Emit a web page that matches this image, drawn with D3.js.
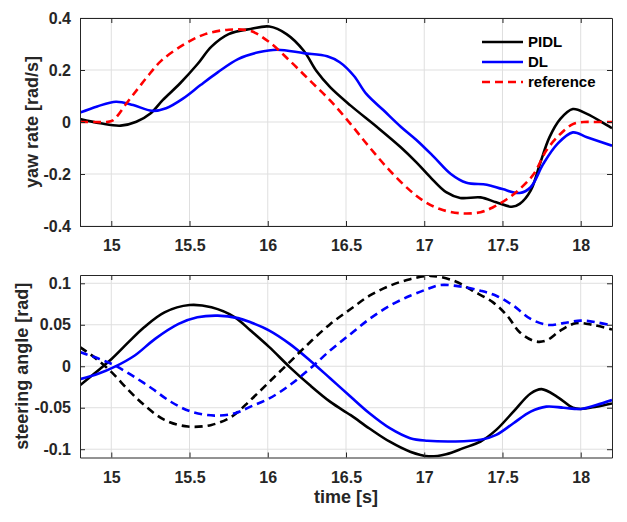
<!DOCTYPE html>
<html>
<head>
<meta charset="utf-8">
<script src="https://cdnjs.cloudflare.com/ajax/libs/d3/7.8.5/d3.min.js"></script>
<style>
body { margin: 0; background: #fff; }
text { font-family: "Liberation Sans", Arial, sans-serif; font-weight: bold; fill: #262626; }
</style>
</head>
<body>
<div id="chart"></div>
<script>
// tick labels
var timeTicks = [15, 15.5, 16, 16.5, 17, 17.5, 18];
var yawTicks = [-0.4, -0.2, 0, 0.2, 0.4];
var steerTicks = [-0.1, -0.05, 0, 0.05, 0.1];

// yaw rate [rad/s], [time, value]
var yawPidl = [[14.8,0.011],[14.93,-0.005],[15.06,-0.014],[15.16,0.001],[15.25,0.033],[15.33,0.085],[15.44,0.149],[15.55,0.222],[15.64,0.29],[15.75,0.338],[15.89,0.358],[16.01,0.367],[16.12,0.338],[16.23,0.274],[16.31,0.197],[16.4,0.133],[16.53,0.063],[16.7,-0.02],[16.85,-0.097],[16.95,-0.155],[17.04,-0.213],[17.14,-0.27],[17.23,-0.292],[17.36,-0.29],[17.46,-0.309],[17.56,-0.326],[17.61,-0.315],[17.68,-0.264],[17.74,-0.16],[17.8,-0.059],[17.87,0.012],[17.95,0.05],[18.04,0.031],[18.2,-0.024]];
var yawDl = [[14.8,0.036],[14.91,0.06],[15.03,0.078],[15.14,0.065],[15.26,0.043],[15.35,0.053],[15.46,0.091],[15.57,0.142],[15.68,0.191],[15.81,0.242],[15.94,0.268],[16.06,0.278],[16.23,0.265],[16.38,0.253],[16.46,0.23],[16.55,0.178],[16.63,0.108],[16.74,0.045],[16.85,-0.018],[16.95,-0.069],[17.06,-0.133],[17.17,-0.2],[17.27,-0.234],[17.4,-0.241],[17.5,-0.258],[17.61,-0.273],[17.68,-0.251],[17.76,-0.162],[17.85,-0.085],[17.95,-0.04],[18.04,-0.059],[18.2,-0.091]];
var yawRef = [[14.8,0.0],[14.9,0.0],[14.97,0.0],[15.01,0.006],[15.1,0.074],[15.17,0.128],[15.23,0.174],[15.32,0.236],[15.47,0.3],[15.6,0.338],[15.75,0.355],[15.89,0.35],[16.01,0.307],[16.14,0.236],[16.27,0.159],[16.4,0.082],[16.53,-0.008],[16.65,-0.097],[16.78,-0.187],[16.91,-0.264],[17.0,-0.305],[17.1,-0.335],[17.23,-0.351],[17.36,-0.347],[17.44,-0.328],[17.53,-0.296],[17.61,-0.258],[17.7,-0.2],[17.78,-0.11],[17.87,-0.046],[17.95,-0.008],[18.02,0.0],[18.1,0.0],[18.2,0.0]];

// steering angle [rad], [time, value]
var steerPidl = [[14.8,-0.023],[14.89,-0.009],[15.0,0.0084],[15.11,0.029],[15.21,0.047],[15.34,0.065],[15.5,0.0738],[15.64,0.071],[15.79,0.059],[15.89,0.043],[16.01,0.023],[16.14,-0.001],[16.27,-0.023],[16.4,-0.043],[16.53,-0.059],[16.65,-0.075],[16.78,-0.091],[16.91,-0.103],[17.03,-0.1086],[17.14,-0.106],[17.25,-0.0987],[17.36,-0.0907],[17.46,-0.0767],[17.57,-0.0547],[17.68,-0.0328],[17.75,-0.0276],[17.85,-0.0368],[17.95,-0.05],[18.0,-0.0515],[18.1,-0.0487],[18.2,-0.0448]];
var steerDl = [[14.8,-0.0156],[14.92,-0.0088],[15.02,-0.0008],[15.15,0.013],[15.28,0.033],[15.43,0.051],[15.55,0.059],[15.68,0.061],[15.81,0.058],[15.89,0.053],[16.01,0.043],[16.14,0.027],[16.27,0.007],[16.4,-0.0148],[16.53,-0.0368],[16.65,-0.0567],[16.78,-0.0747],[16.91,-0.0867],[17.02,-0.0898],[17.19,-0.0907],[17.36,-0.0887],[17.46,-0.0827],[17.57,-0.0687],[17.68,-0.0547],[17.78,-0.0487],[17.89,-0.05],[18.0,-0.0515],[18.1,-0.0467],[18.2,-0.0407]];
var steerPidlB = [[14.8,0.023],[14.89,0.011],[15.0,-0.0068],[15.11,-0.0288],[15.21,-0.0467],[15.34,-0.0647],[15.49,-0.0727],[15.64,-0.0707],[15.77,-0.0607],[15.89,-0.0407],[16.01,-0.0188],[16.14,0.005],[16.27,0.029],[16.4,0.051],[16.53,0.069],[16.65,0.085],[16.78,0.097],[16.91,0.105],[17.04,0.109],[17.19,0.103],[17.31,0.091],[17.44,0.077],[17.53,0.061],[17.61,0.041],[17.71,0.03],[17.78,0.031],[17.87,0.043],[17.97,0.052],[18.08,0.0498],[18.2,0.0443]];
var steerDlB = [[14.8,0.0171],[14.92,0.0091],[15.02,0.0012],[15.13,-0.0108],[15.26,-0.0268],[15.38,-0.0428],[15.51,-0.0547],[15.66,-0.0595],[15.79,-0.0567],[15.89,-0.0487],[16.01,-0.0388],[16.14,-0.0228],[16.27,-0.0029],[16.4,0.0192],[16.53,0.039],[16.65,0.057],[16.78,0.073],[16.91,0.085],[17.02,0.093],[17.1,0.0978],[17.23,0.0962],[17.36,0.091],[17.46,0.085],[17.57,0.073],[17.68,0.057],[17.79,0.0498],[17.89,0.052],[18.0,0.055],[18.1,0.053],[18.2,0.049]];

var legendNames = ["PIDL", "DL", "reference"];

var outerWidth = 627,
    outerHeight = 522;

var svg = d3.select("#chart")
    .append("svg")
        .attr("width", outerWidth)
        .attr("height", outerHeight);

var x = d3.scaleLinear()
    .domain([14.8, 18.2])
    .range([0, 532]);

function fmt(d) { return String(d); }

function panel(top, height, yDomain, yTicks, yLabel, labelX, series, id) {
    var y = d3.scaleLinear().domain(yDomain).range([height, 0]);
    var g = svg.append("g").attr("transform", "translate(80," + top + ")");
    var w = x.range()[1];

    g.append("clipPath").attr("id", id)
        .append("rect").attr("width", w).attr("height", height);

    // grid
    g.append("g").selectAll("line").data(timeTicks).enter().append("line")
        .attr("x1", function(d) { return x(d); }).attr("x2", function(d) { return x(d); })
        .attr("y1", 0).attr("y2", height)
        .style("stroke", "#dfdfdf");
    g.append("g").selectAll("line").data(yTicks).enter().append("line")
        .attr("y1", function(d) { return y(d); }).attr("y2", function(d) { return y(d); })
        .attr("x1", 0).attr("x2", w)
        .style("stroke", "#dfdfdf");

    var line = d3.line()
        .x(function(d) { return x(d[0]); })
        .y(function(d) { return y(d[1]); })
        .curve(d3.curveCatmullRom.alpha(0.5));

    var lines = g.append("g").attr("clip-path", "url(#" + id + ")");
    series.forEach(function(s) {
        lines.append("path")
            .attr("d", line(s.data))
            .style("fill", "none")
            .style("stroke", s.color)
            .style("stroke-width", 2.6)
            .style("stroke-dasharray", s.dash ? "8,5" : null);
    });

    // axes, ticks inward on all four sides
    var axes = [
        [d3.axisBottom(x).tickValues(timeTicks).tickFormat(fmt), "translate(0," + height + ")", "bottom"],
        [d3.axisTop(x).tickValues(timeTicks).tickFormat(""), "translate(0,0)", "top"],
        [d3.axisLeft(y).tickValues(yTicks).tickFormat(fmt), "translate(0,0)", "left"],
        [d3.axisRight(y).tickValues(yTicks).tickFormat(""), "translate(" + w + ",0)", "right"]
    ];
    axes.forEach(function(a) {
        var ax = g.append("g")
            .attr("transform", a[1])
            .call(a[0].tickSizeInner(-5).tickSizeOuter(0).tickPadding(9));
        ax.selectAll("path, line").style("stroke", "#262626");
        ax.selectAll("text")
            .style("font-size", "16px")
            .style("font-family", "'Liberation Sans', Arial, sans-serif")
            .style("font-weight", "bold")
            .style("fill", "#262626");
        if (a[2] === "bottom") ax.selectAll("text").attr("dy", "1.0em");
    });

    svg.append("text")
        .attr("transform", "translate(" + labelX + "," + (top + height / 2) + ") rotate(-90)")
        .attr("text-anchor", "middle")
        .attr("dy", "0.35em")
        .style("font-size", "18px")
        .text(yLabel);

    return g;
}

var top1 = panel(18, 208, [-0.4, 0.4], yawTicks, "yaw rate [rad/s]", 32, [
    {data: yawPidl, color: "#000000"},
    {data: yawDl, color: "#0000ff"},
    {data: yawRef, color: "#ff0000", dash: true}
], "clipTop");

panel(275, 182.5, [-0.11, 0.11], steerTicks, "steering angle [rad]", 21.5, [
    {data: steerPidl, color: "#000000"},
    {data: steerDl, color: "#0000ff"},
    {data: steerPidlB, color: "#000000", dash: true},
    {data: steerDlB, color: "#0000ff", dash: true}
], "clipBottom");

svg.append("text")
    .attr("x", 346)
    .attr("y", 502.5)
    .attr("text-anchor", "middle")
    .style("font-size", "18px")
    .text("time [s]");

// legend
var legendColors = ["#000000", "#0000ff", "#ff0000"];
var legend = top1.append("g").attr("transform", "translate(402,24)");
legendNames.forEach(function(name, i) {
    legend.append("line")
        .attr("x1", 0).attr("x2", 41)
        .attr("y1", i * 20).attr("y2", i * 20)
        .style("stroke", legendColors[i])
        .style("stroke-width", 2.6)
        .style("stroke-dasharray", i === 2 ? "8,5" : null);
    legend.append("text")
        .attr("x", 46).attr("y", i * 20)
        .attr("dy", "0.35em")
        .style("font-size", "15px")
        .style("fill", "#000")
        .text(name);
});
</script>
</body>
</html>
